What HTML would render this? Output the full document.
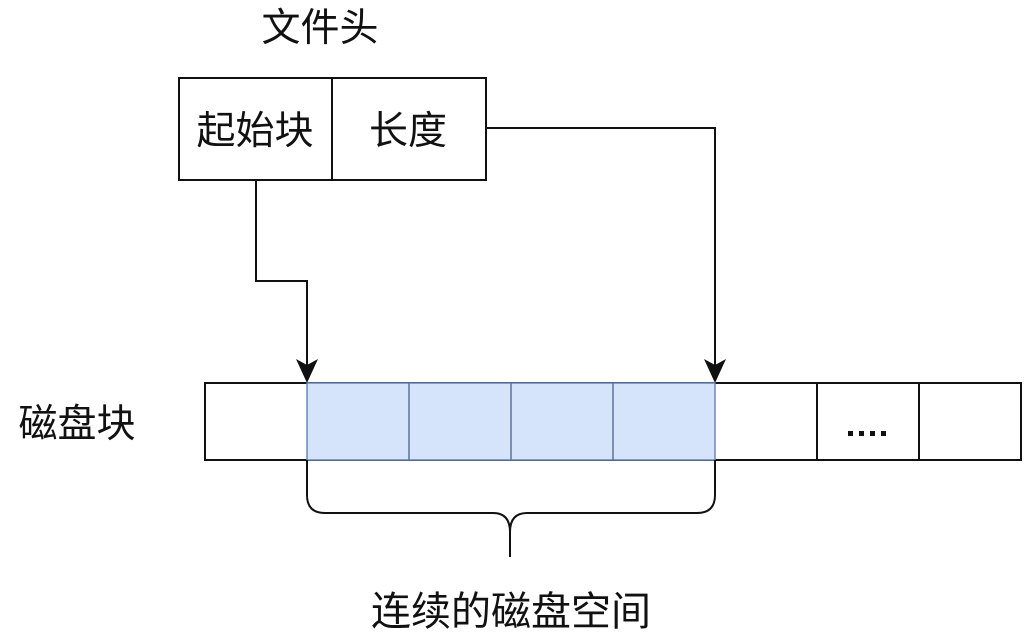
<!DOCTYPE html>
<html><head><meta charset="utf-8"><style>
html,body{margin:0;padding:0;background:#fff;}
svg{display:block;}
text{font-family:"Liberation Sans","Noto Sans CJK SC",sans-serif;font-size:39px;fill:#111;}
</style></head><body>
<svg width="1024" height="641" viewBox="0 0 1024 641" xmlns="http://www.w3.org/2000/svg">
<rect width="1024" height="641" fill="#fff"/>
<text x="320" y="41" text-anchor="middle">文件头</text>
<!-- header box -->
<rect x="179" y="78" width="307" height="102" fill="#fff" stroke="#111" stroke-width="2"/>
<line x1="332" y1="78" x2="332" y2="180" stroke="#111" stroke-width="2"/>
<text x="255" y="144" text-anchor="middle">起始块</text>
<text x="408" y="144" text-anchor="middle">长度</text>
<!-- connectors -->
<polyline points="256,180 256,281 307,281 307,368" fill="none" stroke="#111" stroke-width="2"/>
<polyline points="486,128 715,128 715,368" fill="none" stroke="#111" stroke-width="2"/>
<path d="M307,383 L296,359 L307,365 L318,359 Z" fill="#111"/>
<path d="M715,383 L704,359 L715,365 L726,359 Z" fill="#111"/>
<!-- disk blocks -->
<rect x="205" y="383" width="816" height="77" fill="#fff" stroke="#111" stroke-width="2"/>
<rect x="307" y="383" width="408" height="77" fill="#d6e4fb" stroke="#6b87b5" stroke-width="1.5"/>
<line x1="409" y1="383" x2="409" y2="460" stroke="#5d7396" stroke-width="1.5"/>
<line x1="511" y1="383" x2="511" y2="460" stroke="#5d7396" stroke-width="1.5"/>
<line x1="613" y1="383" x2="613" y2="460" stroke="#5d7396" stroke-width="1.5"/>
<line x1="817" y1="383" x2="817" y2="460" stroke="#111" stroke-width="2"/>
<line x1="919" y1="383" x2="919" y2="460" stroke="#111" stroke-width="2"/>
<g fill="#111">
<rect x="848" y="431" width="5" height="5"/>
<rect x="859" y="431" width="5" height="5"/>
<rect x="870" y="431" width="5" height="5"/>
<rect x="881" y="431" width="5" height="5"/>
</g>
<text x="77" y="437" text-anchor="middle">磁盘块</text>
<!-- brace -->
<path d="M307,460 L307,495 Q307,513 325,513 L493,513 Q510,513 510,532 L510,557 M510,532 Q510,513 527,513 L697,513 Q715,513 715,495 L715,460" fill="none" stroke="#111" stroke-width="2"/>
<text x="511" y="625" text-anchor="middle" style="font-size:40px">连续的磁盘空间</text>
</svg>
</body></html>
